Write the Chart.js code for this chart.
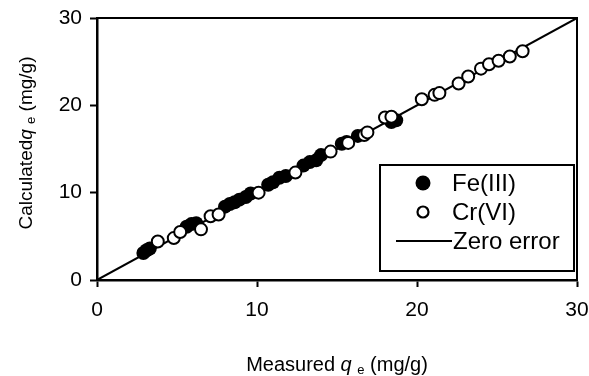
<!DOCTYPE html>
<html>
<head>
<meta charset="utf-8">
<script src="https://cdn.jsdelivr.net/npm/chart.js@4"></script>
<style>
  html, body { margin: 0; padding: 0; background: #fff; }
</style>
</head>
<body>
<canvas id="chart" width="589" height="376"></canvas>
<script>
// Fe(III) - filled circles
const feMeasured   = [2.9, 3.1, 3.3, 5.6, 5.9, 6.2, 8.0, 8.3, 8.6, 8.9, 9.3, 9.6, 10.7, 11.0, 11.4, 11.8, 12.9, 13.3, 13.7, 14.0, 15.3, 15.6, 16.3, 18.4, 18.7];
const feCalculated = [3.1, 3.4, 3.6, 6.1, 6.4, 6.5, 8.4, 8.7, 8.9, 9.2, 9.5, 9.9, 10.9, 11.2, 11.7, 11.9, 13.1, 13.5, 13.7, 14.3, 15.6, 15.8, 16.5, 18.1, 18.3];

// Cr(VI) - open circles
const crMeasured   = [3.8, 4.8, 5.2, 6.5, 7.1, 7.6, 10.1, 12.4, 14.6, 15.7, 16.7, 16.9, 18.0, 18.4, 20.3, 21.1, 21.4, 22.6, 23.2, 24.0, 24.5, 25.1, 25.8, 26.6];
const crCalculated = [4.4, 4.8, 5.5, 5.8, 7.3, 7.5, 10.0, 12.3, 14.7, 15.7, 16.6, 16.9, 18.6, 18.7, 20.7, 21.2, 21.4, 22.5, 23.3, 24.2, 24.7, 25.1, 25.6, 26.2];

// zero error line (y = x)
const zeroLine = [0, 30];

const axisTicks = [0, 10, 20, 30];

const FONT = 'Liberation Sans, Arial, sans-serif';

function toPoints(xs, ys) {
    return xs.map(function(x, i) { return {x: x, y: ys[i]}; });
}

// draws a title made of runs with different styles (italic q, subscript e)
function drawRuns(ctx, runs, cx, baseline) {
    let total = 0;
    runs.forEach(function(r) {
        ctx.font = r.font;
        r.w = ctx.measureText(r.text).width;
        total += r.w;
    });
    let x = cx - total / 2;
    runs.forEach(function(r) {
        ctx.font = r.font;
        ctx.fillText(r.text, x, baseline + (r.dy || 0));
        x += r.w;
    });
}

const framePlugin = {
    id: 'frame',
    afterDraw(chart) {
        const ctx = chart.ctx;
        const a = chart.chartArea;
        ctx.save();
        ctx.strokeStyle = '#000';
        ctx.lineWidth = 2;
        ctx.beginPath();
        ctx.moveTo(a.left, a.top);
        ctx.lineTo(a.right, a.top);
        ctx.lineTo(a.right, a.bottom);
        ctx.stroke();

        // axis titles
        ctx.fillStyle = '#000';
        ctx.textBaseline = 'alphabetic';
        ctx.textAlign = 'left';
        const xRuns = [
            {text: 'Measured ', font: '20px ' + FONT},
            {text: 'q', font: 'italic 20px ' + FONT},
            {text: ' ', font: '20px ' + FONT},
            {text: 'e', font: '13px ' + FONT, dy: 3},
            {text: ' (mg/g)', font: '20px ' + FONT}
        ];
        drawRuns(ctx, xRuns, (a.left + a.right) / 2, 371);

        ctx.translate(32, 143);
        ctx.rotate(-Math.PI / 2);
        const yRuns = [
            {text: 'Calculated', font: '19px ' + FONT},
            {text: 'q', font: 'italic 19px ' + FONT},
            {text: ' ', font: '19px ' + FONT},
            {text: 'e', font: '13px ' + FONT, dy: 3},
            {text: ' (mg/g)', font: '19px ' + FONT}
        ];
        drawRuns(ctx, yRuns, 0, 0);
        ctx.restore();

        // legend box
        ctx.save();
        const bx = 380, by = 165, bw = 194, bh = 106;
        ctx.fillStyle = '#fff';
        ctx.fillRect(bx, by, bw, bh);
        ctx.strokeStyle = '#000';
        ctx.lineWidth = 2;
        ctx.strokeRect(bx, by, bw, bh);

        ctx.font = '24px ' + FONT;
        ctx.fillStyle = '#000';
        ctx.textBaseline = 'middle';
        ctx.textAlign = 'left';

        ctx.beginPath();
        ctx.arc(423, 183, 7.5, 0, Math.PI * 2);
        ctx.fill();
        ctx.fillText('Fe(III)', 452, 184);

        ctx.beginPath();
        ctx.arc(423, 212, 5.5, 0, Math.PI * 2);
        ctx.fillStyle = '#fff';
        ctx.fill();
        ctx.lineWidth = 2.2;
        ctx.stroke();
        ctx.fillStyle = '#000';
        ctx.fillText('Cr(VI)', 452, 213);

        ctx.lineWidth = 2;
        ctx.beginPath();
        ctx.moveTo(396, 241);
        ctx.lineTo(452, 241);
        ctx.stroke();
        ctx.fillText('Zero error', 453, 242);
        ctx.restore();
    }
};

function axisOptions(fit, pad) {
    return {
        type: 'linear',
        min: 0,
        max: 30,
        afterBuildTicks: function(scale) {
            scale.ticks = axisTicks.map(function(v) { return {value: v}; });
        },
        afterFit: fit,
        ticks: {
            color: '#000',
            font: {family: FONT, size: 21},
            padding: pad
        },
        grid: {
            drawOnChartArea: false,
            tickLength: 7,
            tickColor: '#000',
            tickWidth: 2
        },
        border: {color: '#000', width: 2.5}
    };
}

new Chart(document.getElementById('chart'), {
    type: 'scatter',
    data: {
        datasets: [
            {
                label: 'Fe(III)',
                data: toPoints(feMeasured, feCalculated),
                pointRadius: 7,
                pointBackgroundColor: '#000',
                pointBorderColor: '#000',
                pointBorderWidth: 0,
                order: 1
            },
            {
                label: 'Cr(VI)',
                data: toPoints(crMeasured, crCalculated),
                pointRadius: 6,
                pointBackgroundColor: '#fff',
                pointBorderColor: '#000',
                pointBorderWidth: 2,
                order: 0
            },
            {
                label: 'Zero error',
                data: toPoints(zeroLine, zeroLine),
                showLine: true,
                pointRadius: 0,
                borderColor: '#000',
                borderWidth: 2,
                order: 2
            }
        ]
    },
    options: {
        responsive: false,
        animation: false,
        layout: {padding: {top: 18, right: 12, left: 0, bottom: 0}},
        plugins: {
            legend: {display: false},
            tooltip: {enabled: false}
        },
        scales: {
            x: axisOptions(function(scale) {
                scale.height = 96;
                scale.paddingLeft = 0;
                scale.paddingRight = 0;
            }, 11),
            y: axisOptions(function(scale) {
                scale.width = 97;
                scale.paddingTop = 0;
                scale.paddingBottom = 0;
            }, 8)
        }
    },
    plugins: [framePlugin]
});
</script>
</body>
</html>
